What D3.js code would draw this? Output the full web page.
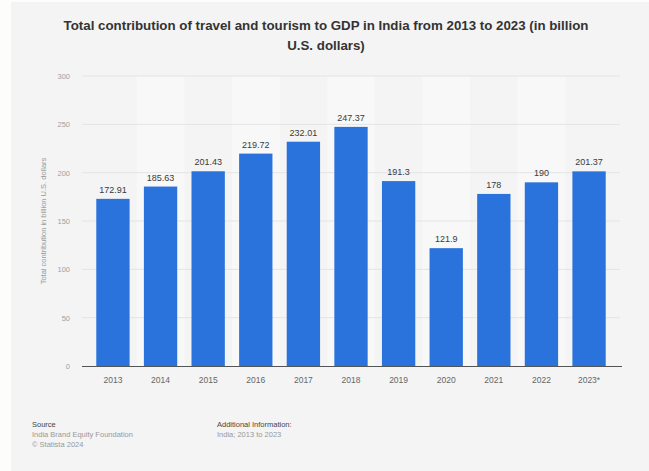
<!DOCTYPE html>
<html>
  <head>
    <meta charset="utf-8" />
    <title>India travel and tourism GDP</title>
    <script src="https://cdn.jsdelivr.net/npm/d3@7"></script>
    <style type="text/css">
      body { margin: 0; background: #fdfdfc; }
      svg { display: block; font-family: "Liberation Sans", Arial, sans-serif; }
    </style>
  </head>

  <body>
    <svg id="chart" width="649" height="471"></svg>
    <script type="text/javascript">
      // data
      var years = ['2013', '2014', '2015', '2016', '2017', '2018', '2019', '2020', '2021', '2022', '2023*'];
      var values = [172.91, 185.63, 201.43, 219.72, 232.01, 247.37, 191.3, 121.9, 178, 190, 201.37];
      var labels = ['172.91', '185.63', '201.43', '219.72', '232.01', '247.37', '191.3', '121.9', '178', '190', '201.37'];
      var yTicks = [0, 50, 100, 150, 200, 250, 300];

      var svg = d3.select('#chart');

      // gray panel
      svg.append('rect')
        .attr('x', 11).attr('y', 2)
        .attr('width', 638).attr('height', 469)
        .attr('fill', '#f4f4f4');

      var scX = d3.scaleBand()
        .domain(years)
        .range([82, 620])
        .padding(0.3);

      var scY = d3.scaleLinear()
        .domain([0, 300])
        .range([366, 76]);

      // alternating column bands
      svg.append('g')
        .selectAll('rect')
        .data(years.filter((d, i) => i % 2 === 1))
        .enter()
        .append('rect')
        .attr('x', (d) => scX(d) - scX.step() * scX.paddingInner() / 2)
        .attr('y', scY(300))
        .attr('width', scX.step())
        .attr('height', scY(0) - scY(300))
        .attr('fill', '#f8f8f8');

      // gridlines
      svg.append('g')
        .selectAll('line')
        .data(yTicks.slice(1))
        .enter()
        .append('line')
        .attr('x1', 82).attr('x2', 620)
        .attr('y1', (d) => scY(d)).attr('y2', (d) => scY(d))
        .attr('stroke', '#e4e4e4')
        .attr('stroke-width', 1);

      // y tick labels
      svg.append('g')
        .selectAll('text')
        .data(yTicks)
        .enter()
        .append('text')
        .attr('x', 70)
        .attr('y', (d) => scY(d) + 3)
        .attr('text-anchor', 'end')
        .attr('font-size', 7.5)
        .attr('fill', '#a0a0a0')
        .text((d) => d);

      // bars
      svg.append('g')
        .attr('fill', '#2a73dc')
        .selectAll('rect')
        .data(values)
        .enter()
        .append('rect')
        .attr('x', (d, i) => scX(years[i]))
        .attr('y', (d) => scY(d))
        .attr('width', scX.bandwidth())
        .attr('height', (d) => scY(0) - scY(d));

      // value labels
      svg.append('g')
        .selectAll('text')
        .data(values)
        .enter()
        .append('text')
        .attr('x', (d, i) => scX(years[i]) + scX.bandwidth() / 2)
        .attr('y', (d) => scY(d) - 6)
        .attr('text-anchor', 'middle')
        .attr('font-size', 9)
        .attr('fill', '#3a3a3a')
        .text((d, i) => labels[i]);

      // baseline
      svg.append('line')
        .attr('x1', 82).attr('x2', 622)
        .attr('y1', scY(0) + 0.5).attr('y2', scY(0) + 0.5)
        .attr('stroke', '#555')
        .attr('stroke-width', 1);

      // x labels
      svg.append('g')
        .selectAll('text')
        .data(years)
        .enter()
        .append('text')
        .attr('x', (d) => scX(d) + scX.bandwidth() / 2)
        .attr('y', 383)
        .attr('text-anchor', 'middle')
        .attr('font-size', 8.5)
        .attr('fill', '#666')
        .text((d) => d);

      // y axis title
      svg.append('text')
        .attr('transform', 'translate(46,' + scY(150) + ') rotate(-90)')
        .attr('text-anchor', 'middle')
        .attr('font-size', 7.5)
        .attr('fill', '#999')
        .text('Total contribution in billion U.S. dollars');

      // title
      var title = svg.append('text')
        .attr('text-anchor', 'middle')
        .attr('font-size', 13.3)
        .attr('font-weight', 'bold')
        .attr('fill', '#333');
      title.append('tspan').attr('x', 326).attr('y', 30)
        .text('Total contribution of travel and tourism to GDP in India from 2013 to 2023 (in billion');
      title.append('tspan').attr('x', 326).attr('y', 50)
        .text('U.S. dollars)');

      // footer
      var foot = svg.append('g').attr('font-size', 7.5);
      foot.append('text').attr('x', 32).attr('y', 427).attr('fill', '#444').text('Source');
      foot.append('text').attr('x', 32).attr('y', 437).attr('fill', '#999').text('India Brand Equity Foundation');
      foot.append('text').attr('x', 32).attr('y', 447).attr('fill', '#999').text('© Statista 2024');
      foot.append('text').attr('x', 217).attr('y', 427).attr('fill', '#444').text('Additional Information:');
      foot.append('text').attr('x', 217).attr('y', 437).attr('fill', '#999').text('India; 2013 to 2023');
    </script>
  </body>
</html>
